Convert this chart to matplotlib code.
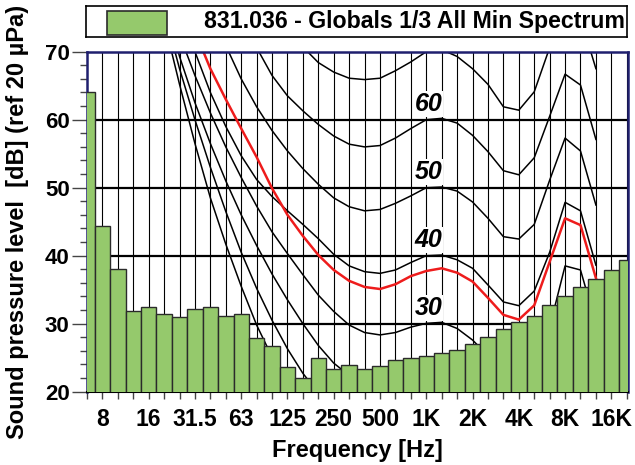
import matplotlib
matplotlib.use("Agg")
import matplotlib.pyplot as plt
from matplotlib.patches import Rectangle
from matplotlib.ticker import MultipleLocator

plt.rcParams['font.family'] = ['Liberation Sans', 'DejaVu Sans']
plt.rcParams['font.weight'] = 'bold'

# 1/3 octave bands, 6.3 Hz .. 20 kHz
bands = ['6.3', '8', '10', '12.5', '16', '20', '25', '31.5', '40', '50', '63', '80',
         '100', '125', '160', '200', '250', '315', '400', '500', '630', '800',
         '1K', '1.25K', '1.6K', '2K', '2.5K', '3.15K', '4K', '5K', '6.3K', '8K',
         '10K', '12.5K', '16K', '20K']
shown = ['8', '16', '31.5', '63', '125', '250', '500', '1K', '2K', '4K', '8K', '16K']

# measured minimum spectrum, dB
spectrum = [64.1, 44.3, 38.0, 31.8, 32.5, 31.4, 31.0, 32.1, 32.5, 31.2, 31.4, 27.9,
            26.7, 23.7, 22.0, 25.0, 23.3, 23.9, 23.3, 23.8, 24.6, 25.0, 25.3, 25.7,
            26.2, 27.0, 28.1, 29.2, 30.3, 31.2, 32.75, 34.0, 35.4, 36.5, 37.9, 39.4]

# contours, 16 Hz .. 12.5 kHz
contour_first = 4
threshold = [84, 74.5, 65.2, 56.5, 48.5, 41.7, 35.5, 29.8, 25.1, 20.7, 16.8, 13.8,
             11.2, 8.9, 7.2, 6.0, 5.0, 4.4, 4.2, 3.7, 2.6, 1.0, -1.2, -3.6, -3.9,
             -1.1, 6.6, 15.3, 16.4, 11.6]
phon_10 = [86, 76, 67.5, 60, 53, 46.5, 40.5, 35.2, 30.5, 26.3, 22.7, 19.8, 17.4,
           15.4, 13.8, 12.5, 11.4, 10.6, 10.0, 10.0, 9.4, 8.0, 6.0, 3.8, 3.5, 6.0,
           13.0, 21.0, 21.5, 17.0]
phon_20 = [87.5, 78, 69.3, 62.5, 56.5, 51, 46, 41.5, 37.3, 33.5, 30, 26.8, 24.2,
           22.4, 21.2, 20.5, 20.2, 20.0, 20.0, 20.0, 19.4, 18.0, 16.0, 13.5, 13.0,
           15.5, 22.0, 29.5, 30.0, 24.0]
phon_30 = [89, 80, 72.5, 66.5, 61, 56, 51.5, 47.3, 43.5, 40.3, 37.2, 34.2, 31.8,
           29.8, 28.7, 28.35, 28.7, 29.5, 30.05, 30.2, 29.3, 27.6, 25.3, 23.0, 22.5,
           24.5, 29.5, 38.5, 37.9, 30.0]
phon_40 = [92, 84, 77, 70.0, 64, 59, 54.7, 51.2, 48.7, 46.6, 44.6, 42.5, 40.2, 38.5,
           37.65, 37.4, 37.9, 39.0, 40.0, 40.1, 39.4, 38.15, 35.7, 33.2, 32.65, 34.8,
           40.5, 47.85, 46.6, 38.6]
phon_50 = [100, 94, 88, 82, 76, 70.9, 66, 61.9, 58.4, 55.4, 52.8, 50.5, 48.5, 47.2,
           46.6, 46.8, 47.7, 48.8, 50.0, 50.1, 49.5, 47.9, 45.5, 42.8, 42.45, 44.6,
           51.1, 57.3, 55.4, 47.45]
phon_60 = [105, 100, 95, 90, 85, 80, 75, 70.6, 66.5, 63.5, 61.3, 59.3, 57.6, 56.4,
           56.0, 56.2, 57.3, 58.7, 60.0, 60.2, 59.5, 57.7, 55.3, 52.5, 51.9, 54.4,
           60.5, 66.7, 65.1, 57.1]
phon_70 = [110, 107, 104, 100, 96, 92, 88, 84, 79, 74.5, 70.7, 68.4, 67.0, 66.1,
           65.9, 66.1, 67.2, 68.5, 70.0, 70.3, 69.3, 67.5, 65.2, 61.9, 61.4, 64.1,
           70.6, 76.5, 75.0, 67.5]
red_curve = [96, 88, 80, 73, 67.5, 63, 58.7, 54.5, 49.9, 46.0, 42.9, 40.1, 37.9,
             36.3, 35.4, 35.1, 35.8, 37.0, 37.75, 38.15, 37.5, 36.2, 33.8, 31.3, 30.6,
             32.7, 39.1, 45.5, 44.5, 36.7]
contour_labels = [30, 40, 50, 60]

legend_text = '831.036 - Globals 1/3 All Min Spectrum'
green = '#95c96c'
navy = '#1f1f6e'

W, H = 635, 465
fig = plt.figure(figsize=(W / 100, H / 100), dpi=100)
ax = fig.add_axes([87 / W, 1 - 391.7 / H, 541.3 / W, 340 / H])

x = list(range(len(bands)))
ax.bar(x, spectrum, width=1.0, color=green, edgecolor='#2b2b2b', linewidth=1.0,
       zorder=4)

cx = list(range(contour_first, contour_first + len(phon_30)))
for curve in [threshold, phon_10, phon_20, phon_30, phon_40, phon_50, phon_60, phon_70]:
    ax.plot(cx, curve, color='black', lw=1.1, zorder=2)
ax.plot(cx, red_curve, color='#ee1c1c', lw=1.8, zorder=2.5)

for p in contour_labels:
    ax.text(22.15, p + 2.3, str(p), fontsize=18, fontstyle='italic', weight='bold',
            ha='center', va='center', zorder=3,
            bbox=dict(facecolor='white', edgecolor='none', pad=0.5))

for i in x[1:]:
    ax.axvline(i, color='black', lw=0.8, zorder=1)
for v in [30, 40, 50, 60]:
    ax.axhline(v, color='black', lw=1.6, zorder=1)

ax.set_xlim(0, 35.1)
ax.set_ylim(20, 70)
ax.set_xticks(x)
ax.set_xticklabels([b if b in shown else '' for b in bands], fontsize=16.5)
ax.tick_params(axis='x', length=5, width=1, pad=7, color='#444444')
ax.set_yticks(range(20, 71, 10))
ax.yaxis.set_minor_locator(MultipleLocator(2))
ax.tick_params(axis='y', which='major', length=11, width=1, pad=1.5,
               labelsize=16, color='#444444')
ax.tick_params(axis='y', which='minor', length=5, width=1, color='#444444')

for s in ['top', 'right', 'left']:
    ax.spines[s].set_color(navy)
    ax.spines[s].set_linewidth(1.8)
ax.spines['bottom'].set_linewidth(1.5)

ax.set_xlabel('Frequency [Hz]', fontsize=17, weight='bold')
ax.xaxis.set_label_coords(0.5, -0.14)
ax.set_ylabel('Sound pressure level  [dB] (ref 20 \u00b5Pa)', fontsize=17,
              weight='bold', va='center')
ax.yaxis.set_label_coords(-0.128, 0.5)

# legend strip above the plot
lax = fig.add_axes([86 / W, 1 - 37.3 / H, 541.3 / W, 31.3 / H])
lax.set_xlim(0, 541.3)
lax.set_ylim(31.3, 0)
lax.set_xticks([])
lax.set_yticks([])
for s in lax.spines.values():
    s.set_linewidth(1.2)
lax.add_patch(Rectangle((21.3, 4.7), 59.4, 24.6, facecolor=green,
                        edgecolor='#2b2b2b', lw=1.2))
lax.text(118, 15.5, legend_text, fontsize=16.7, weight='bold', va='center', ha='left')

fig.savefig('out.png', dpi=100)
